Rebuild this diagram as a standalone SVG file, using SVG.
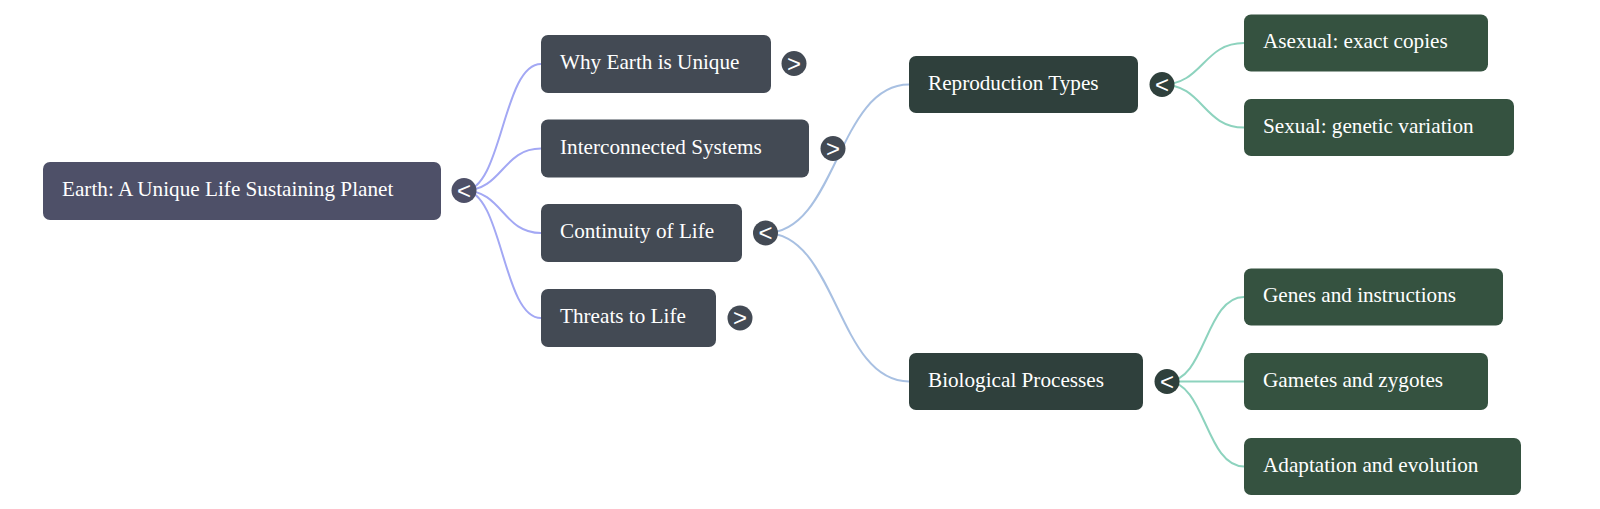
<svg xmlns="http://www.w3.org/2000/svg" width="1600" height="509" viewBox="0 0 1600 509">
<style>
.lbl{font-family:"Liberation Serif","Times New Roman",serif;font-size:21.2px;fill:#ffffff}
.tg{font-family:"Liberation Sans",Arial,sans-serif;font-size:24px;fill:#ffffff;text-anchor:middle}
.c0{fill:none;stroke:#a3a8f4;stroke-width:2}
.c1{fill:none;stroke:#a8c0e2;stroke-width:2}
.c2{fill:none;stroke:#8dd3be;stroke-width:2}
.r0{fill:#4e5068}
.r1{fill:#434a54}
.r2{fill:#2f403c}
.r3{fill:#355240}
</style>
<rect width="1600" height="509" fill="#ffffff"/>
<g id="connectors">
<path class="c0" d="M464,190.5 C502.5,190.5 502.5,64 541,64"/>
<path class="c0" d="M464,190.5 C502.5,190.5 502.5,148.5 541,148.5"/>
<path class="c0" d="M464,190.5 C502.5,190.5 502.5,233 541,233"/>
<path class="c0" d="M464,190.5 C502.5,190.5 502.5,318 541,318"/>
<path class="c1" d="M765.5,233 C837,233 837,84.5 909,84.5"/>
<path class="c1" d="M765.5,233 C837,233 837,381.5 909,381.5"/>
<path class="c2" d="M1162,84.5 C1203,84.5 1203,43 1244,43"/>
<path class="c2" d="M1162,84.5 C1203,84.5 1203,127.5 1244,127.5"/>
<path class="c2" d="M1167,381.5 C1205.5,381.5 1205.5,297 1244,297"/>
<path class="c2" d="M1167,381.5 L1244,381.5"/>
<path class="c2" d="M1167,381.5 C1205.5,381.5 1205.5,466.5 1244,466.5"/>
</g>
<g id="root">
<rect class="r0" x="43" y="162" width="398" height="58" rx="7"/>
<text class="lbl" x="62" y="196">Earth: A Unique Life Sustaining Planet</text>
<circle class="r0" cx="464" cy="190.5" r="12.5"/>
<text class="tg" x="464" y="198.9">&lt;</text>
</g>
<g id="why-earth">
<rect class="r1" x="541" y="35" width="230" height="58" rx="7"/>
<text class="lbl" x="560" y="69.3">Why Earth is Unique</text>
<circle class="r1" cx="794" cy="63.5" r="12.5"/>
<text class="tg" x="794" y="71.9">&gt;</text>
</g>
<g id="interconnected">
<rect class="r1" x="541" y="119.5" width="268" height="58" rx="7"/>
<text class="lbl" x="560" y="153.8">Interconnected Systems</text>
<circle class="r1" cx="833" cy="148.5" r="12.5"/>
<text class="tg" x="833" y="156.9">&gt;</text>
</g>
<g id="continuity">
<rect class="r1" x="541" y="204" width="201" height="58" rx="7"/>
<text class="lbl" x="560" y="238.3">Continuity of Life</text>
<circle class="r1" cx="765.5" cy="233" r="12.5"/>
<text class="tg" x="765.5" y="241.4">&lt;</text>
</g>
<g id="threats">
<rect class="r1" x="541" y="289" width="175" height="58" rx="7"/>
<text class="lbl" x="560" y="323.3">Threats to Life</text>
<circle class="r1" cx="740" cy="318" r="12.5"/>
<text class="tg" x="740" y="326.4">&gt;</text>
</g>
<g id="reproduction">
<rect class="r2" x="909" y="56" width="229" height="57" rx="7"/>
<text class="lbl" x="928" y="89.8">Reproduction Types</text>
<circle class="r2" cx="1162" cy="84.5" r="12.5"/>
<text class="tg" x="1162" y="92.9">&lt;</text>
</g>
<g id="biological">
<rect class="r2" x="909" y="353" width="234" height="57" rx="7"/>
<text class="lbl" x="928" y="386.8">Biological Processes</text>
<circle class="r2" cx="1167" cy="381.5" r="12.5"/>
<text class="tg" x="1167" y="389.9">&lt;</text>
</g>
<g id="asexual">
<rect class="r3" x="1244" y="14.5" width="244" height="57" rx="7"/>
<text class="lbl" x="1263" y="48.3">Asexual: exact copies</text>
</g>
<g id="sexual">
<rect class="r3" x="1244" y="99" width="270" height="57" rx="7"/>
<text class="lbl" x="1263" y="132.8">Sexual: genetic variation</text>
</g>
<g id="genes">
<rect class="r3" x="1244" y="268.5" width="259" height="57" rx="7"/>
<text class="lbl" x="1263" y="302.3">Genes and instructions</text>
</g>
<g id="gametes">
<rect class="r3" x="1244" y="353" width="244" height="57" rx="7"/>
<text class="lbl" x="1263" y="386.8">Gametes and zygotes</text>
</g>
<g id="adaptation">
<rect class="r3" x="1244" y="438" width="277" height="57" rx="7"/>
<text class="lbl" x="1263" y="471.8">Adaptation and evolution</text>
</g>
</svg>
